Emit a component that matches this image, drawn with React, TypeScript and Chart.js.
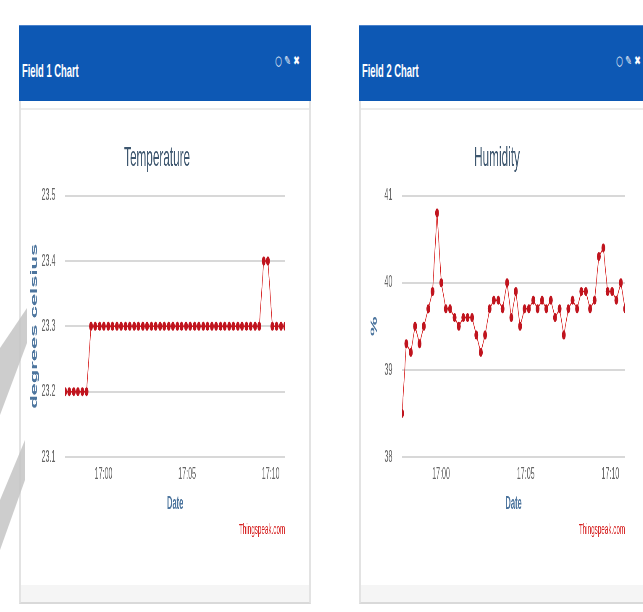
import React, { useEffect, useRef } from "react";
import { Chart, registerables } from "chart.js";

Chart.register(...registerables);

// ---- data ----
const times = [
  "16:57:42", "16:57:57", "16:58:13", "16:58:28", "16:58:44", "16:58:59", "16:59:15", "16:59:30", "16:59:46", "17:00:01",
  "17:00:17", "17:00:32", "17:00:48", "17:01:03", "17:01:19", "17:01:34", "17:01:50", "17:02:05", "17:02:21", "17:02:36",
  "17:02:52", "17:03:07", "17:03:23", "17:03:38", "17:03:54", "17:04:09", "17:04:25", "17:04:40", "17:04:56", "17:05:11",
  "17:05:27", "17:05:42", "17:05:58", "17:06:13", "17:06:29", "17:06:44", "17:07:00", "17:07:15", "17:07:31", "17:07:46",
  "17:08:02", "17:08:17", "17:08:33", "17:08:48", "17:09:04", "17:09:19", "17:09:35", "17:09:50", "17:10:06", "17:10:21",
  "17:10:37", "17:10:52",
];

const temperature = [
  23.2, 23.2, 23.2, 23.2, 23.2, 23.2, 23.3, 23.3, 23.3, 23.3,
  23.3, 23.3, 23.3, 23.3, 23.3, 23.3, 23.3, 23.3, 23.3, 23.3,
  23.3, 23.3, 23.3, 23.3, 23.3, 23.3, 23.3, 23.3, 23.3, 23.3,
  23.3, 23.3, 23.3, 23.3, 23.3, 23.3, 23.3, 23.3, 23.3, 23.3,
  23.3, 23.3, 23.3, 23.3, 23.3, 23.3, 23.4, 23.4, 23.3, 23.3,
  23.3, 23.3,
];

const humidity = [
  38.5, 39.3, 39.2, 39.5, 39.3, 39.5, 39.7, 39.9, 40.8, 40.0,
  39.7, 39.7, 39.6, 39.5, 39.6, 39.6, 39.6, 39.4, 39.2, 39.4,
  39.7, 39.8, 39.8, 39.7, 40.0, 39.6, 39.9, 39.5, 39.7, 39.7,
  39.8, 39.7, 39.8, 39.7, 39.8, 39.6, 39.7, 39.4, 39.7, 39.8,
  39.7, 39.9, 39.9, 39.7, 39.8, 40.3, 40.4, 39.9, 39.9, 39.8,
  40.0, 39.7,
];

const tempTicks = [23.1, 23.2, 23.3, 23.4, 23.5];
const humidityTicks = [38, 39, 40, 41];
const xTickLabels = ["17:00", "17:05", "17:10"];

const FONT = "'Liberation Sans', Arial, sans-serif";
const SX = 0.42;

function toMin(s: string): number {
  const [h, m, sec] = s.split(":").map(Number);
  return h * 60 + m + (sec || 0) / 60 - 17 * 60;
}

type Cfg = {
  title: string;
  yTitle: string;
  values: number[];
  yTicks: number[];
  decimals: number;
  width: number;
  height: number;
  padLeft: number;
  padRight: number;
  yWidth: number;
};

function LineChart({ cfg, left, top }: { cfg: Cfg; left: number; top: number }) {
  const ref = useRef<HTMLCanvasElement>(null);
  useEffect(() => {
    const xs = times.map(toMin);
    const chart = new Chart(ref.current as HTMLCanvasElement, {
      type: "line",
      data: {
        datasets: [
          {
            data: xs.map((x, i) => ({ x, y: cfg.values[i] })),
            borderColor: "#d62020",
            borderWidth: 1.5,
            pointRadius: 4.5,
            pointStyle: "circle",
            pointBackgroundColor: "#c0141e",
            pointBorderColor: "#c0141e",
            pointBorderWidth: 0,
            tension: 0,
          },
        ],
      },
      options: {
        responsive: false,
        animation: false,
        devicePixelRatio: 1,
        layout: { padding: { left: cfg.padLeft, right: cfg.padRight, top: 0, bottom: 3 } },
        plugins: {
          legend: { display: false },
          tooltip: { enabled: false },
          title: {
            display: true,
            text: cfg.title,
            color: "#3e576f",
            font: { family: FONT, size: 28, weight: "normal" },
            padding: { top: 31, bottom: 21 },
          },
          subtitle: {
            display: true,
            text: "Thingspeak.com",
            position: "bottom",
            align: "end",
            color: "#d62020",
            font: { family: FONT, size: 15, weight: "normal" },
            padding: { top: 6, bottom: 0 },
          },
        },
        scales: {
          x: {
            type: "linear",
            min: xs[0],
            max: xs[xs.length - 1],
            bounds: "data",
            grid: { display: false, drawTicks: false },
            border: { display: false },
            afterBuildTicks: (s: any) => {
              s.ticks = xTickLabels.map((l) => ({ value: toMin(l + ":00") }));
            },
            ticks: {
              color: "#666666",
              font: { family: FONT, size: 17 },
              padding: 7,
              maxRotation: 0,
              autoSkip: false,
              callback: (_v: any, i: number) => xTickLabels[i],
            },
            title: {
              display: true,
              text: "Date",
              color: "#4d759e",
              font: { family: FONT, size: 18, weight: "bold" },
              padding: { top: 2, bottom: 0 },
            },
          },
          y: {
            type: "linear",
            min: cfg.yTicks[0],
            max: cfg.yTicks[cfg.yTicks.length - 1],
            afterBuildTicks: (s: any) => {
              s.ticks = cfg.yTicks.map((v) => ({ value: v }));
            },
            afterFit: (s: any) => {
              s.width = cfg.yWidth;
            },
            grid: { color: "#d8d8d8", lineWidth: 2, drawTicks: false },
            border: { display: false },
            ticks: {
              color: "#666666",
              font: { family: FONT, size: 17 },
              padding: 23,
              callback: (v: any) => Number(v).toFixed(cfg.decimals),
            },
            title: {
              display: true,
              text: cfg.yTitle,
              color: "#4d759e",
              font: { family: FONT, size: 22, weight: "bold" },
              padding: { top: 0, bottom: 0 },
            },
          },
        },
      } as any,
    });
    return () => chart.destroy();
  }, []);
  return (
    <canvas
      ref={ref}
      width={cfg.width}
      height={cfg.height}
      style={{
        position: "absolute",
        left,
        top,
        width: cfg.width,
        height: cfg.height,
        transform: `scaleX(${SX})`,
        transformOrigin: "0 0",
      }}
    />
  );
}

const tempCfg: Cfg = {
  title: "Temperature",
  yTitle: "degrees celsius",
  values: temperature,
  yTicks: tempTicks,
  decimals: 1,
  width: 688,
  height: 432,
  padLeft: 19,
  padRight: 59,
  yWidth: 86,
};

const humCfg: Cfg = {
  title: "Humidity",
  yTitle: "%",
  values: humidity,
  yTicks: humidityTicks,
  decimals: 0,
  width: 664,
  height: 432,
  padLeft: 14,
  padRight: 40,
  yWidth: 79,
};

function Card({ left, width, label }: { left: number; width: number; label: string }) {
  return (
    <>
      <div
        style={{
          position: "absolute",
          left,
          top: 101,
          width,
          height: 503,
          background: "#ffffff",
          boxSizing: "border-box",
          borderLeft: "2px solid #e3e3e3",
          borderRight: "2px solid #e3e3e3",
          borderBottom: "2px solid #d9d9d9",
        }}
      />
      <div style={{ position: "absolute", left: left + 2, top: 108, width: width - 4, height: 2, background: "#ececec" }} />
      <div style={{ position: "absolute", left: left + 2, top: 585, width: width - 4, height: 17, background: "#f5f5f5" }} />
      <div
        style={{
          position: "absolute",
          left,
          top: 25,
          width,
          height: 76,
          background: "#0d58b4",
          borderTop: "1px solid #4a82cc",
          boxSizing: "border-box",
        }}
      />
      <div
        style={{
          position: "absolute",
          left: left + 3,
          top: 61,
          fontFamily: FONT,
          fontWeight: "bold",
          fontSize: 18,
          lineHeight: "20px",
          color: "#ffffff",
          whiteSpace: "nowrap",
          transform: "scaleX(0.52)",
          transformOrigin: "0 0",
        }}
      >
        {label}
      </div>
    </>
  );
}

function Icons({ left }: { left: number }) {
  return (
    <div
      style={{
        position: "absolute",
        left,
        top: 53,
        fontFamily: "'DejaVu Sans', sans-serif",
        fontSize: 13,
        lineHeight: "16px",
        color: "#ffffff",
        whiteSpace: "nowrap",
        transform: "scaleX(0.6)",
        transformOrigin: "0 0",
      }}
    >
      ○ ✎ ✖
    </div>
  );
}

export default function App() {
  return (
    <div
      style={{
        position: "absolute",
        left: 0,
        top: 0,
        width: 643,
        height: 612,
        overflow: "hidden",
        background: "#ffffff",
      }}
    >
      <Card left={19} width={292} label="Field 1 Chart" />
      <Icons left={275} />
      <Card left={359} width={300} label="Field 2 Chart" />
      <Icons left={616} />
      <LineChart cfg={tempCfg} left={21} top={110} />
      <LineChart cfg={humCfg} left={363} top={110} />
      <div
        style={{
          position: "absolute",
          left: 0,
          top: 0,
          width: 643,
          height: 612,
          background: "#c4c4c4",
          opacity: 0.85,
          clipPath: "polygon(0px 348px, 27px 308px, 27px 343px, 0px 415px)",
        }}
      />
      <div
        style={{
          position: "absolute",
          left: 0,
          top: 0,
          width: 643,
          height: 612,
          background: "#c4c4c4",
          opacity: 0.85,
          clipPath: "polygon(0px 500px, 25px 440px, 25px 480px, 0px 550px)",
        }}
      />
    </div>
  );
}
